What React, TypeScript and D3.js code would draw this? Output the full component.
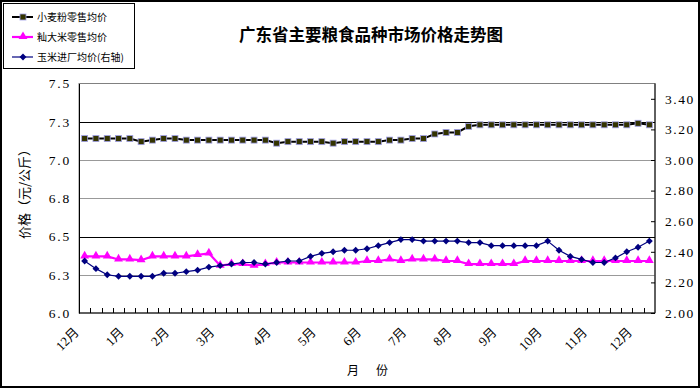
import React, { useEffect, useRef } from "react";
import * as d3 from "d3";

// weekly categories, month names only where the label sits
const categories = [
  "12月", "", "", "", "1月", "", "", "", "2月", "", "", "", "3月", "", "", "", "",
  "4月", "", "", "", "5月", "", "", "", "6月", "", "", "", "7月", "", "", "",
  "8月", "", "", "", "9月", "", "", "", "10月", "", "", "", "11月", "", "", "",
  "12月", "",
];

// 小麦粉零售均价 (left axis)
const wheat = [
  7.14, 7.14, 7.14, 7.14, 7.14, 7.12, 7.13, 7.14, 7.14, 7.13, 7.13, 7.13, 7.13,
  7.13, 7.13, 7.13, 7.13, 7.11, 7.12, 7.12, 7.12, 7.12, 7.11, 7.12, 7.12, 7.12,
  7.12, 7.13, 7.13, 7.14, 7.14, 7.17, 7.18, 7.18, 7.22, 7.23, 7.23, 7.23, 7.23,
  7.23, 7.23, 7.23, 7.23, 7.23, 7.23, 7.23, 7.23, 7.23, 7.23, 7.24, 7.23,
];

// 籼大米零售均价 (left axis)
const rice = [
  6.37, 6.37, 6.37, 6.35, 6.35, 6.345, 6.37, 6.37, 6.37, 6.37, 6.38, 6.39, 6.31,
  6.32, 6.32, 6.31, 6.32, 6.33, 6.33, 6.33, 6.33, 6.33, 6.33, 6.33, 6.33, 6.34,
  6.34, 6.35, 6.34, 6.35, 6.35, 6.35, 6.34, 6.34, 6.32, 6.32, 6.32, 6.32, 6.32,
  6.34, 6.34, 6.34, 6.34, 6.34, 6.34, 6.34, 6.34, 6.34, 6.34, 6.34, 6.34,
];

// 玉米进厂均价 (right axis)
const corn = [
  2.34, 2.29, 2.25, 2.24, 2.24, 2.24, 2.24, 2.26, 2.26, 2.27, 2.28, 2.3, 2.31,
  2.32, 2.33, 2.33, 2.32, 2.33, 2.34, 2.34, 2.37, 2.39, 2.4, 2.41, 2.41, 2.42,
  2.44, 2.46, 2.48, 2.48, 2.47, 2.47, 2.47, 2.47, 2.46, 2.46, 2.44, 2.44, 2.44,
  2.44, 2.44, 2.47, 2.41, 2.37, 2.35, 2.33, 2.33, 2.36, 2.4, 2.43, 2.47,
];

const leftTicks = [6.0, 6.25, 6.5, 6.75, 7.0, 7.25, 7.5];
const leftTickLabels = ["6.0", "6.3", "6.5", "6.8", "7.0", "7.3", "7.5"];
const rightTicks = [2.0, 2.2, 2.4, 2.6, 2.8, 3.0, 3.2, 3.4];

const seriesNames = ["小麦粉零售均价", "籼大米零售均价", "玉米进厂均价(右轴)"];

const width = 700;
const height = 388;
const cjk = "'Noto Sans CJK SC', sans-serif";
const num = "'Liberation Serif', 'Noto Sans CJK SC', serif";

function drawChart(svgEl) {
  const svg = d3.select(svgEl);
  svg.selectAll("*").remove();

  const left = 79, right = 655, top = 83.5, bottom = 313;

  const x = d3.scaleBand(d3.range(categories.length), [left, right]).padding(0);
  const cx = (i) => x(i) + x.bandwidth() / 2;
  const yL = d3.scaleLinear([6, 7.5], [bottom, top]);
  const yR = d3.scaleLinear([2, 3.5], [bottom, top]);

  svg.append("rect").attr("width", width).attr("height", height).attr("fill", "#fff");
  svg.append("rect")
    .attr("x", 1).attr("y", 1).attr("width", width - 2).attr("height", height - 2)
    .attr("fill", "none").attr("stroke", "#000").attr("stroke-width", 2);

  // title
  svg.append("text")
    .attr("x", 371).attr("y", 41)
    .attr("text-anchor", "middle")
    .attr("font-family", cjk).attr("font-weight", 700).attr("font-size", 16.5)
    .text("广东省主要粮食品种市场价格走势图");

  // plot frame + gridlines
  svg.append("rect")
    .attr("x", left).attr("y", top).attr("width", right - left).attr("height", bottom - top)
    .attr("fill", "#fff").attr("stroke", "#808080");

  svg.append("g")
    .selectAll("line")
    .data(leftTicks.slice(1, -1))
    .join("line")
    .attr("x1", left).attr("x2", right)
    .attr("y1", (d) => Math.round(yL(d)) + 0.5).attr("y2", (d) => Math.round(yL(d)) + 0.5)
    .attr("stroke", (d) => (d === 7.25 || d === 6.5 ? "#000" : "#999"));

  // left axis
  const gl = svg.append("g").attr("transform", `translate(${left},0)`)
    .call(d3.axisLeft(yL).tickValues(leftTicks).tickSize(0).tickPadding(8)
      .tickFormat((d, i) => leftTickLabels[i]));
  gl.select(".domain").attr("stroke", "#000");
  gl.selectAll("text").attr("font-family", num).attr("font-size", 13.5).attr("letter-spacing", 1.8).attr("fill", "#000");

  // right axis
  const gr = svg.append("g").attr("transform", `translate(${right},0)`)
    .call(d3.axisRight(yR).tickValues(rightTicks).tickSize(-4).tickPadding(10)
      .tickFormat(d3.format(".2f")));
  gr.select(".domain").attr("stroke", "#000").attr("d", `M0,${top}V${bottom}`);
  gr.selectAll("line").attr("stroke", "#000");
  gr.selectAll("text").attr("font-family", num).attr("font-size", 13.5).attr("letter-spacing", 1.5).attr("fill", "#000");

  // bottom axis with ticks between categories
  svg.append("line")
    .attr("x1", left).attr("x2", right).attr("y1", bottom).attr("y2", bottom)
    .attr("stroke", "#000");
  svg.append("g")
    .selectAll("line")
    .data(d3.range(1, categories.length))
    .join("line")
    .attr("x1", (i) => Math.round(x(i)) + 0.5).attr("x2", (i) => Math.round(x(i)) + 0.5)
    .attr("y1", bottom).attr("y2", bottom - 5)
    .attr("stroke", "#000");

  svg.append("g")
    .selectAll("text")
    .data(d3.range(categories.length).filter((i) => categories[i]))
    .join("text")
    .attr("transform", (i) => `translate(${cx(i) - 5},333) rotate(-45)`)
    .attr("text-anchor", "end")
    .attr("font-family", num).attr("font-size", 13)
    .text((i) => categories[i]);

  // axis titles
  svg.append("text")
    .attr("transform", "translate(28.5,191) rotate(-90)")
    .attr("text-anchor", "middle")
    .attr("font-family", cjk).attr("font-size", 13)
    .text("价格（元/公斤）");
  svg.append("text").attr("x", 353).attr("y", 375).attr("text-anchor", "middle")
    .attr("font-family", cjk).attr("font-size", 12).text("月");
  svg.append("text").attr("x", 382).attr("y", 375).attr("text-anchor", "middle")
    .attr("font-family", cjk).attr("font-size", 12).text("份");

  // series
  const idx = d3.range(categories.length);
  const lineL = (vals) => d3.line().x((i) => cx(i)).y((i) => yL(vals[i]))(idx);
  const lineR = (vals) => d3.line().x((i) => cx(i)).y((i) => yR(vals[i]))(idx);

  svg.append("path").attr("d", lineL(wheat)).attr("fill", "none").attr("stroke", "#000").attr("stroke-width", 2);
  svg.append("g").selectAll("rect").data(idx).join("rect")
    .attr("x", (i) => cx(i) - 3).attr("y", (i) => yL(wheat[i]) - 3)
    .attr("width", 6).attr("height", 6)
    .attr("fill", "#333300").attr("stroke", "#a0a0e8").attr("stroke-width", 0.8);

  const tri = d3.symbol(d3.symbolTriangle, 34);
  svg.append("path").attr("d", lineL(rice)).attr("fill", "none").attr("stroke", "#ff00ff").attr("stroke-width", 2.2);
  svg.append("g").selectAll("path").data(idx).join("path")
    .attr("transform", (i) => `translate(${cx(i)},${yL(rice[i]) - 0.5})`)
    .attr("d", tri).attr("fill", "#ff00ff");

  const dia = d3.symbol(d3.symbolDiamond2, 30);
  svg.append("path").attr("d", lineR(corn)).attr("fill", "none").attr("stroke", "#000080").attr("stroke-width", 1.2);
  svg.append("g").selectAll("path").data(idx).join("path")
    .attr("transform", (i) => `translate(${cx(i)},${yR(corn[i])})`)
    .attr("d", dia).attr("fill", "#000080");

  // legend
  svg.append("rect")
    .attr("x", 3.5).attr("y", 3.5).attr("width", 131).attr("height", 65)
    .attr("fill", "#fff").attr("stroke", "#000");
  const lg = svg.append("g").selectAll("g").data(seriesNames).join("g")
    .attr("transform", (d, i) => `translate(0,${17 + i * 20})`);
  lg.append("line").attr("x1", 12).attr("x2", 33)
    .attr("stroke", (d, i) => ["#000", "#ff00ff", "#000080"][i])
    .attr("stroke-width", (d, i) => [2, 2.2, 1.2][i]);
  lg.each(function (d, i) {
    const g = d3.select(this);
    if (i === 0) {
      g.append("rect").attr("x", 20).attr("y", -3).attr("width", 6).attr("height", 6)
        .attr("fill", "#333300").attr("stroke", "#a0a0e8").attr("stroke-width", 0.8);
    } else if (i === 1) {
      g.append("path").attr("transform", "translate(23,-0.5)").attr("d", tri).attr("fill", "#ff00ff");
    } else {
      g.append("path").attr("transform", "translate(23,0)").attr("d", dia).attr("fill", "#000080");
    }
  });
  lg.append("text").attr("x", 37).attr("y", 0).attr("dy", "0.36em")
    .attr("font-family", cjk).attr("font-size", 10)
    .text((d) => d);
}

export default function App() {
  const ref = useRef(null);

  useEffect(() => {
    if (!ref.current) return;
    drawChart(ref.current);
  }, []);

  return (
    <svg
      ref={ref}
      width={width}
      height={height}
      viewBox={`0 0 ${width} ${height}`}
      style={{ position: "absolute", left: 0, top: 0 }}
    />
  );
}
